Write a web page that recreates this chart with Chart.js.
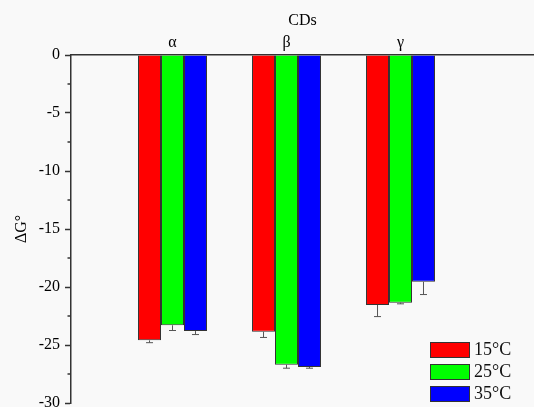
<!DOCTYPE html>
<html>
<head>
<meta charset="utf-8">
<script src="https://cdn.jsdelivr.net/npm/chart.js@4/dist/chart.umd.min.js"></script>
<style>
  html, body { margin: 0; padding: 0; background: #f9f9f9; }
  #wrap { width: 534px; height: 407px; }
</style>
</head>
<body>
<div id="wrap"><canvas id="chart" width="534" height="407"></canvas></div>
<script>
const categories = ['α', 'β', 'γ'];
const temps = ['15°C', '25°C', '35°C'];
const dG15 = [-24.6, -23.85, -21.55];
const dG25 = [-23.3, -26.7, -21.35];
const dG35 = [-23.8, -26.9, -19.55];
const err15 = [0.2, 0.5, 1.0];
const err25 = [0.45, 0.3, 0.1];
const err35 = [0.3, 0.1, 1.1];
const yTicks = [0, -5, -10, -15, -20, -25, -30];

const serif = "'Liberation Serif', 'Times New Roman', serif";
const barColors = ['#ff0000', '#00ff00', '#0000ff'];
const errors = [err15, err25, err35];

const toPoints = arr => arr.map((v, i) => ({ x: i + 1, y: v }));

const bgPlugin = {
  id: 'bg',
  beforeDraw(chart) {
    const c = chart.ctx;
    c.save();
    c.fillStyle = '#f9f9f9';
    c.fillRect(0, 0, chart.width, chart.height);
    c.restore();
  }
};

// one-sided error bars, pointing away from zero
const errorBars = {
  id: 'errorBars',
  afterDatasetsDraw(chart) {
    const c = chart.ctx;
    const ys = chart.scales.y;
    c.save();
    c.strokeStyle = '#555';
    c.lineWidth = 1;
    chart.data.datasets.forEach((ds, di) => {
      chart.getDatasetMeta(di).data.forEach((bar, i) => {
        const v = ds.data[i].y;
        const yEnd = ys.getPixelForValue(v - errors[di][i]);
        c.beginPath();
        c.moveTo(bar.x, bar.y);
        c.lineTo(bar.x, yEnd);
        c.moveTo(bar.x - 3.5, yEnd);
        c.lineTo(bar.x + 3.5, yEnd);
        c.stroke();
      });
    });
    c.restore();
  }
};

const minorTicks = {
  id: 'minorTicks',
  afterDraw(chart) {
    const c = chart.ctx;
    const ys = chart.scales.y;
    const left = chart.chartArea.left;
    c.save();
    c.strokeStyle = '#333';
    c.lineWidth = 1.5;
    for (let i = 0; i < yTicks.length - 1; i++) {
      const y = ys.getPixelForValue((yTicks[i] + yTicks[i + 1]) / 2);
      c.beginPath();
      c.moveTo(left - 3.5, y);
      c.lineTo(left, y);
      c.stroke();
    }
    c.restore();
  }
};

const boxLegend = {
  id: 'boxLegend',
  afterDraw(chart) {
    const c = chart.ctx;
    c.save();
    c.font = '18px ' + serif;
    c.textBaseline = 'middle';
    chart.data.datasets.forEach((ds, i) => {
      const y = 342 + i * 22;
      c.fillStyle = ds.backgroundColor;
      c.fillRect(430, y, 40, 16);
      c.strokeStyle = '#333';
      c.lineWidth = 1;
      c.strokeRect(430.5, y + 0.5, 39, 15);
      c.fillStyle = '#111';
      c.fillText(ds.label, 474, y + 8.5);
    });
    c.restore();
  }
};

new Chart(document.getElementById('chart'), {
  type: 'bar',
  data: {
    datasets: [dG15, dG25, dG35].map((d, i) => ({
      label: temps[i],
      data: toPoints(d),
      backgroundColor: barColors[i],
      borderColor: '#333',
      borderWidth: 1,
      barPercentage: 1,
      categoryPercentage: 0.605
    }))
  },
  options: {
    responsive: false,
    animation: false,
    layout: { padding: { top: 0, right: 0, bottom: 4, left: 0 } },
    plugins: {
      legend: { display: false },
      tooltip: { enabled: false }
    },
    scales: {
      x: {
        type: 'linear',
        position: 'top',
        offset: false,
        min: 0.1096,
        max: 4.171,
        afterBuildTicks: s => { s.ticks = categories.map((_, i) => ({ value: i + 1 })); },
        afterFit: s => { s.height = 55; s.paddingLeft = 0; s.paddingRight = 0; },
        grid: { drawOnChartArea: false, drawTicks: false, offset: false },
        border: { display: true, color: '#333', width: 1.5 },
        ticks: {
          padding: 3,
          color: '#000',
          font: { family: serif, size: 16 },
          callback: v => categories[v - 1] || ''
        },
        title: {
          display: true,
          text: 'CDs',
          color: '#000',
          font: { family: serif, size: 16 },
          padding: { top: 11, bottom: 0 }
        }
      },
      y: {
        min: -30,
        max: 0,
        afterBuildTicks: s => { s.ticks = yTicks.map(v => ({ value: v })); },
        afterFit: s => { s.width = 71; s.paddingTop = 0; s.paddingBottom = 0; },
        grid: { drawOnChartArea: false, drawTicks: true, tickLength: 6, tickWidth: 1.5, tickColor: '#333' },
        border: { display: true, color: '#333', width: 1.5 },
        ticks: {
          padding: 5,
          color: '#000',
          font: { family: serif, size: 16 }
        },
        title: {
          display: true,
          text: 'ΔG°',
          color: '#000',
          font: { family: serif, size: 16 },
          padding: { top: 12, bottom: 0 }
        }
      }
    }
  },
  plugins: [bgPlugin, errorBars, minorTicks, boxLegend]
});
</script>
</body>
</html>
